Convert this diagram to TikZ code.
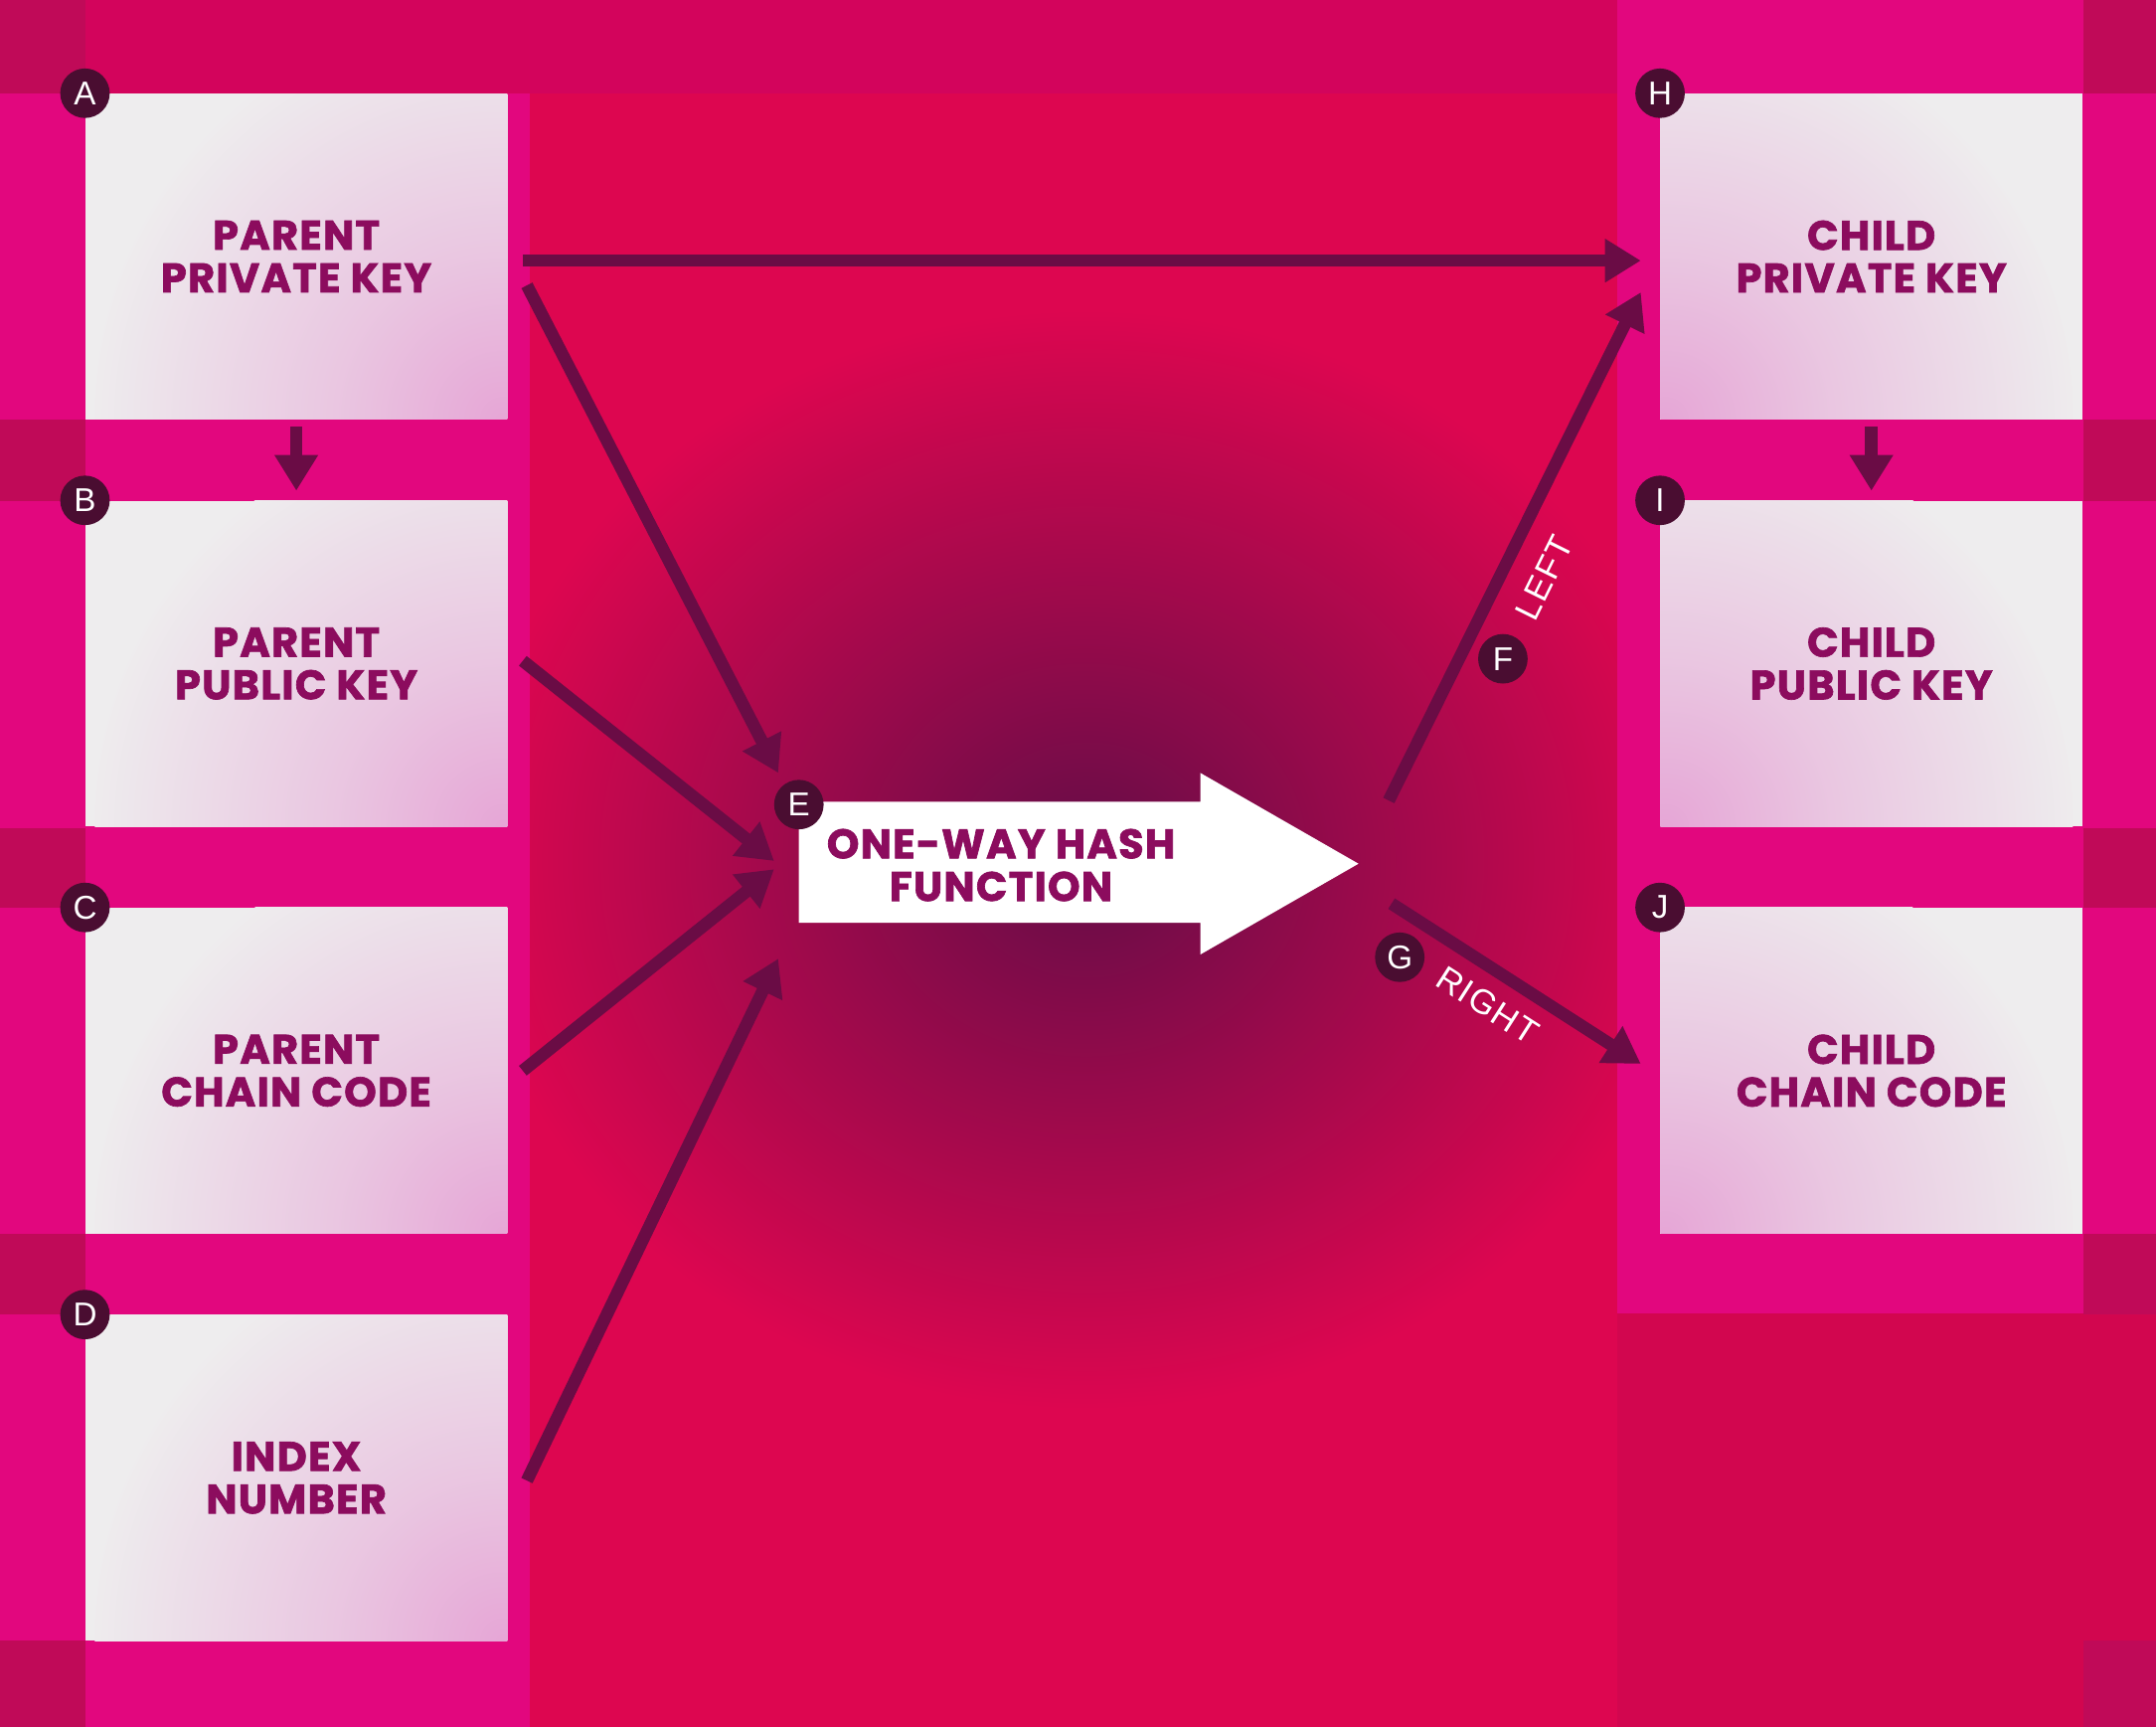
\documentclass[tikz,border=0pt]{standalone}
\usepackage{fontspec}
\newfontfamily\headfont{Poppins}[BoldFeatures={FakeBold=1.6,LetterSpace=3}]
\newfontfamily\tagfont{Liberation Sans}
\newfontfamily\sidefont{Liberation Sans}[LetterSpace=4]
\usetikzlibrary{arrows.meta}
\usetikzlibrary{calc}

\definecolor{crimson}{HTML}{DD0650}
\definecolor{crimsondark}{HTML}{D2064F}
\definecolor{pinkband}{HTML}{E2077E}
\definecolor{topband}{HTML}{D3045C}
\definecolor{cornerdark}{HTML}{C00A58}
\definecolor{plum}{HTML}{640D47}
\definecolor{boxgray}{HTML}{EEEDEE}
\definecolor{boxpink}{HTML}{E6A6D6}
\definecolor{keytext}{HTML}{8C0C5E}
\definecolor{arrowc}{HTML}{6A0C45}
\definecolor{badge}{HTML}{4A0D31}

\pgfdeclareradialshading{cornerpink}{\pgfpoint{0bp}{0bp}}{color(0bp)=(boxpink);
  color(10bp)=(boxpink!55!boxgray); color(25bp)=(boxgray); color(50bp)=(boxgray)}

\begin{document}
\begin{tikzpicture}[x=1pt, y=-1pt,
  keybox/.style={fill=boxgray, minimum width=307pt, minimum height=237pt, inner sep=0pt,
    align=center, text=keytext, font=\headfont\bfseries\fontsize{30}{31}\selectfont},
  leftkey/.style={keybox, path picture={\shade[shading=cornerpink]
    (path picture bounding box.south east) circle (300pt);}},
  rightkey/.style={keybox, path picture={\shade[shading=cornerpink]
    (path picture bounding box.south west) circle (300pt);}},
  tag/.style={circle, fill=badge, text=white, minimum size=36pt, inner sep=0pt,
    font=\tagfont\fontsize{24}{24}\selectfont},
  sidelabel/.style={text=white, inner sep=0pt, font=\sidefont\fontsize{25}{25}\selectfont},
  link/.style={draw=arrowc, line width=9pt, -{Triangle[width=30pt,length=26pt]}}]

  % background
  \useasboundingbox (0,0) rectangle (1568,1256);
  \fill[crimson] (0,0) rectangle (1568,1256);
  \shade[inner color=plum, outer color=crimson] (790,625) ellipse (450 and 400);
  \fill[pinkband] (0,0) rectangle (385,1256);
  \fill[pinkband] (1176,0) rectangle (1568,955);
  \fill[crimsondark] (1176,955) rectangle (1568,1256);
  \fill[topband] (0,0) rectangle (1176,68);
  \foreach \ya/\yb in {0/68, 305/364, 602/660, 897/956, 1193/1256} {
    \fill[cornerdark] (0,\ya) rectangle (62,\yb);
    \fill[cornerdark] (1515,\ya) rectangle (1568,\yb);
  }

  % parent side
  \def\dy{296};
  \foreach \i/\tg/\name/\txt in {0/A/bA/{PARENT\\PRIVATE KEY}, 1/B/bB/{PARENT\\PUBLIC KEY},
      2/C/bC/{PARENT\\CHAIN CODE}, 3/D/bD/{INDEX\\NUMBER}} {
    \node[leftkey] (\name) at (215.5, 186.5+\i*\dy) {\txt};
    \node[tag] (t\tg) at (\name.north west) {\tg};
  }

  % child side
  \foreach \i/\tg/\name/\txt in {0/H/bH/{CHILD\\PRIVATE KEY}, 1/I/bI/{CHILD\\PUBLIC KEY},
      2/J/bJ/{CHILD\\CHAIN CODE}} {
    \node[rightkey] (\name) at (1361, 186.5+\i*\dy) {\txt};
    \node[tag] (t\tg) at (\name.north west) {\tg};
  }

  % hash arrow
  \fill[white] (581,583) -- (873,583) -- (873,562) -- (988,628) -- (873,694)
    -- (873,671) -- (581,671) -- cycle;
  \node[text=keytext, align=center, font=\headfont\bfseries\fontsize{30}{31}\selectfont]
    (hash) at (728,629) {ONE-WAY HASH\\FUNCTION};
  \node[tag] (tE) at (581,585) {E};

  \coordinate (inA) at (566,562);
  \coordinate (inB) at (563,626);
  \coordinate (inC) at (563,632);
  \coordinate (inD) at (566,697);
  \coordinate (outL) at (1010,582);
  \coordinate (outR) at (1012,657);

  \draw[link] ([xshift=11pt,yshift=-3pt]bA.east) -- ([xshift=-14pt,yshift=-3pt]bH.west);
  \draw[link] ([xshift=14pt,yshift=-21pt]bA.east) -- (inA);
  \draw[link] ([xshift=11pt,yshift=2pt]bB.east) -- (inB);
  \draw[link] ([xshift=11pt]bC.east) -- (inC);
  \draw[link] ([xshift=14pt,yshift=-2pt]bD.east) -- (inD);

  \draw[link] ([yshift=-5pt]bA.south) -- ([yshift=7pt]bB.north);
  \draw[link] ([yshift=-5pt]bH.south) -- ([yshift=7pt]bI.north);

  \draw[link] (outL) -- ([xshift=-14pt,yshift=-26pt]bH.west);
  \draw[link] (outR) -- ([xshift=-14pt,yshift=5pt]bJ.west);

  \node[tag] (tF) at (1093,479) {F};
  \node[sidelabel, rotate=63.6] (lbL) at (1123,420) {LEFT};
  \node[tag] (tG) at (1018,696) {G};
  \node[sidelabel, rotate=-32.7] (lbR) at (1082,731) {RIGHT};

\end{tikzpicture}
\end{document}
